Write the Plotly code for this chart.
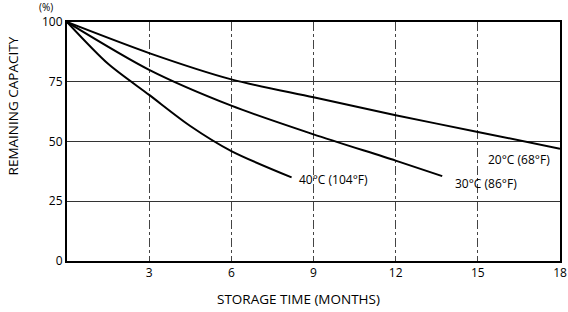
import plotly.graph_objects as go

months_20 = [0, 3, 6, 9, 12, 15, 18]
cap_20 = [100, 87, 76, 68.5, 61, 54, 47]
months_30 = [0, 3, 6, 9, 12, 13.7]
cap_30 = [100, 80, 65, 53, 42, 35.5]
months_40 = [0, 1.5, 3, 4.5, 6, 8.2]
cap_40 = [100, 82.5, 69.5, 56.5, 46, 35]

x_ticks = [3, 6, 9, 12, 15, 18]
y_ticks = [0, 25, 50, 75, 100]

labels = ["20\u00b0C (68\u00b0F)", "30\u00b0C (86\u00b0F)", "40\u00b0C (104\u00b0F)"]
label_x = [15.3, 14.1, 8.4]
label_y = [42.5, 32.5, 34.2]

FONT = "Open Sans"

fig = go.Figure()
for xs, ys in [(months_20, cap_20), (months_30, cap_30), (months_40, cap_40)]:
    fig.add_trace(go.Scatter(x=xs, y=ys, mode="lines",
                             line=dict(color="black", width=2, shape="spline", smoothing=0.8),
                             showlegend=False, hoverinfo="skip"))

for t, lx, ly in zip(labels, label_x, label_y):
    fig.add_annotation(x=lx, y=ly, text=t, showarrow=False, xanchor="left", yanchor="middle",
                       font=dict(family=FONT, size=12, color="black"))

fig.add_annotation(x=0, y=1, xref="paper", yref="paper", text="(%)", showarrow=False,
                   xanchor="right", yanchor="bottom", xshift=-12, yshift=6,
                   font=dict(family=FONT, size=10, color="black"))

fig.add_annotation(x=-0.11, y=0.65, xref="paper", yref="paper", text="REMAINING CAPACITY",
                   showarrow=False, textangle=-90, xanchor="center", yanchor="middle",
                   font=dict(family=FONT, size=13.5, color="black"))

fig.add_annotation(x=0.47, y=-0.16, xref="paper", yref="paper", text="STORAGE TIME (MONTHS)",
                   showarrow=False, xanchor="center", yanchor="middle",
                   font=dict(family=FONT, size=13.5, color="black"))

fig.update_layout(
    width=568, height=312,
    margin=dict(l=67, r=8, t=22, b=51),
    paper_bgcolor="white", plot_bgcolor="white",
    font=dict(family=FONT, size=12, color="black"),
    xaxis=dict(range=[0, 18], tickvals=x_ticks, ticktext=[str(v) for v in x_ticks],
               showgrid=True, gridcolor="#444", gridwidth=1, griddash="dashdot",
               showline=True, linecolor="black", linewidth=2, mirror=True,
               ticks="", zeroline=False, automargin=False),
    yaxis=dict(range=[0, 100], tickvals=y_ticks, ticktext=[str(v) for v in y_ticks],
               showgrid=True, gridcolor="#333", gridwidth=1,
               showline=True, linecolor="black", linewidth=2, mirror=True,
               ticks="", zeroline=False, automargin=False),
)

fig.write_html("out.html", config={"displayModeBar": False},
               post_script="document.body.style.margin='0';")
